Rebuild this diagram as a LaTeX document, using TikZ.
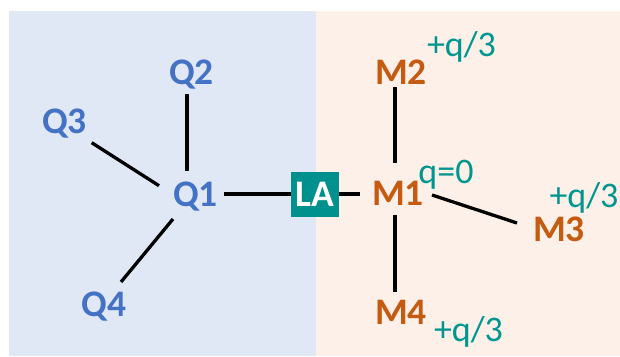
\documentclass[tikz,border=0pt]{standalone}
\usepackage{fontspec}
\setmainfont{Carlito}
\definecolor{qblue}{HTML}{4472C4}
\definecolor{morange}{HTML}{C55A11}
\definecolor{tealc}{HTML}{009690}
\definecolor{labox}{HTML}{00918E}
\definecolor{leftbg}{HTML}{E0E8F5}
\definecolor{rightbg}{HTML}{FDF0E8}
\tikzset{
  qlbl/.style={inner sep=0pt, text height=23pt, text depth=0pt, font=\fontsize{37.5}{37.5}\selectfont\bfseries, text=qblue},
  mlbl/.style={inner sep=0pt, text height=23pt, text depth=0pt, font=\fontsize{37.5}{37.5}\selectfont\bfseries, text=morange},
  chg/.style={inner sep=0pt, text height=22pt, text depth=0pt, font=\fontsize{36}{36}\selectfont, text=tealc},
  labelbox/.style={fill=labox, text=white, minimum width=48pt, minimum height=45pt, inner sep=0pt, text height=23pt, text depth=0pt, font=\fontsize{37.5}{37.5}\selectfont\bfseries},
  bond/.style={line width=3.3pt, black}
}
\begin{document}
\begin{tikzpicture}[x=1pt, y=-1pt]
\useasboundingbox (0,0) rectangle (620,356);
\fill[leftbg] (9,11) rectangle (316,356);
\fill[rightbg] (316,11) rectangle (620,356);
% nodes
\node[qlbl] (q1) at (195.5,195) {Q1};
\node[qlbl] (q2) at (191.5,73) {Q2};
\node[qlbl] (q3) at (64.5,121.5) {Q3};
\node[qlbl] (q4) at (104,305) {Q4};
\node[labelbox] (la) at (315,194.5) {LA};
\node[mlbl] (m1) at (398,194) {M1};
\node[mlbl] (m2) at (401,72.5) {M2};
\node[mlbl] (m3) at (559,230) {M3};
\node[mlbl] (m4) at (401,312.5) {M4};
\node[chg] (c1) at (446,172) {q=0};
\node[chg] (c2) at (461.5,45) {+q/3};
\node[chg] (c3) at (584,196) {+q/3};
\node[chg] (c4) at (468.5,330) {+q/3};
% connectors
\draw[bond] ([shift={(-4.5,21)}]q2.center) -- ([shift={(-8.5,-24)}]q1.center);
\draw[bond] ([shift={(27.2,21.2)}]q3.center) -- ([shift={(-36.5,-9.3)}]q1.center);
\draw[bond] ([shift={(17,-23)}]q4.center) -- ([shift={(-22.5,24)}]q1.center);
\draw[bond] ([shift={(28.8,-1)}]q1.center) -- (la.west |- 0,194);
\draw[bond] (la.east |- 0,194) -- ([shift={(-38,0)}]m1.center);
\draw[bond] ([shift={(-6,14.5)}]m2.center) -- ([shift={(-3,-31)}]m1.center);
\draw[bond] ([shift={(-3,21)}]m1.center) -- ([shift={(-6,-21)}]m4.center);
\draw[bond] ([shift={(34,1)}]m1.center) -- ([shift={(-42,-7)}]m3.center);
\end{tikzpicture}
\end{document}
